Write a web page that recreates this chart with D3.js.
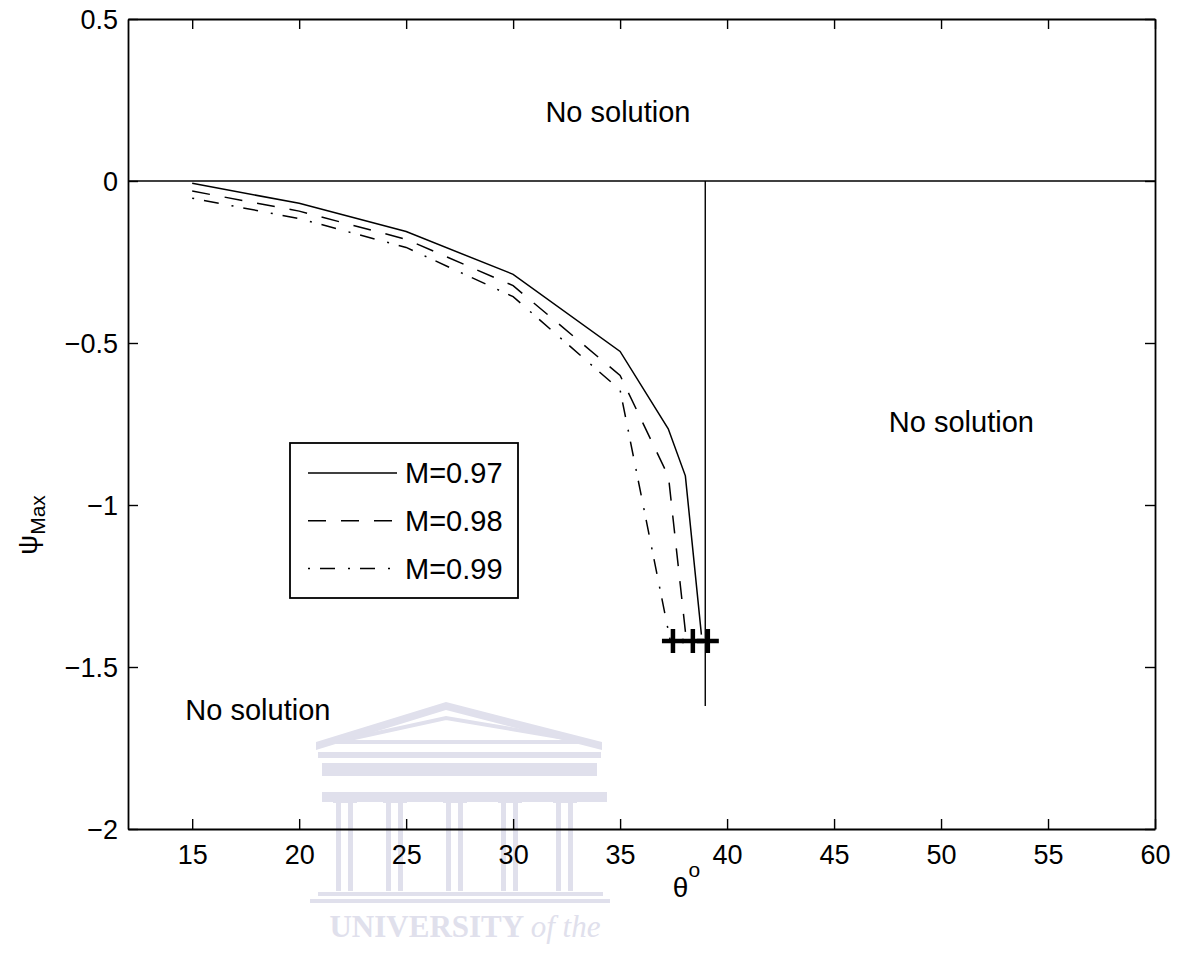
<!DOCTYPE html>
<html>
<head>
<meta charset="utf-8">
<script src="https://cdn.jsdelivr.net/npm/d3@7"></script>
<style>
  body { margin: 0; background: #fff; }
  svg { display: block; font-family: "Liberation Sans", Arial, Helvetica, sans-serif; }
</style>
</head>
<body>
<div id="chart"></div>
<script>
// curves (theta in degrees, psi_max)
const thetaM097 = [15, 20, 25, 30, 35, 37.25, 38.05, 38.8];
const psiM097 = [-0.007, -0.069, -0.156, -0.288, -0.526, -0.765, -0.91, -1.40];
const thetaM098 = [15, 20, 25, 30, 35, 37.26, 38.1];
const psiM098 = [-0.031, -0.093, -0.18, -0.323, -0.60, -0.912, -1.42];
const thetaM099 = [15, 20, 25, 30, 35, 37.35];
const psiM099 = [-0.053, -0.116, -0.205, -0.357, -0.645, -1.42];

const seriesNames = ["M=0.97", "M=0.98", "M=0.99"];
const markerTheta = [37.47, 38.4, 39.1];
const markerPsi = -1.42;
const limitTheta = 38.98;
const limitPsi = [0, -1.62];

const xTicks = [15, 20, 25, 30, 35, 40, 45, 50, 55, 60];
const yTicks = [0.5, 0, -0.5, -1, -1.5, -2];

const noSolutionLabels = [
  { theta: 34.9, psi: 0.183 },
  { theta: 50.95, psi: -0.775 },
  { theta: 18.07, psi: -1.665 }
];

const W = 1190, H = 970;
const margin = { top: 19, right: 35, bottom: 141, left: 128 };
const width = W - margin.left - margin.right;
const height = H - margin.top - margin.bottom;

const svg = d3.select("#chart").append("svg")
  .attr("width", W)
  .attr("height", H);

// faint watermark (university crest) behind the plot
const wmColor = "#e0e0ec";
const wm = svg.append("g").attr("fill", wmColor).attr("stroke", "none");
wm.append("path").attr("d", "M316,742 L446,702 L602,742 L602,750 L446,710 L316,750 Z");
wm.append("path").attr("d", "M336,742 L446,718 L588,742 Z").attr("fill", "none").attr("stroke", wmColor).attr("stroke-width", 4);
wm.append("rect").attr("x", 318).attr("y", 752).attr("width", 283).attr("height", 6);
wm.append("rect").attr("x", 322).attr("y", 763).attr("width", 275).attr("height", 13);
wm.append("rect").attr("x", 322).attr("y", 792).attr("width", 285).attr("height", 10);
[345, 395, 455, 510, 565].forEach(cx => {
  wm.append("rect").attr("x", cx - 12).attr("y", 798).attr("width", 24).attr("height", 5);
  wm.append("rect").attr("x", cx - 9).attr("y", 803).attr("width", 5).attr("height", 88);
  wm.append("rect").attr("x", cx + 3).attr("y", 803).attr("width", 5).attr("height", 88);
});
wm.append("rect").attr("x", 318).attr("y", 892).attr("width", 285).attr("height", 4);
wm.append("rect").attr("x", 310).attr("y", 899).attr("width", 300).attr("height", 4);
svg.append("text")
  .attr("x", 465).attr("y", 937)
  .attr("text-anchor", "middle")
  .attr("fill", wmColor)
  .style("font-family", "'Liberation Serif', 'DejaVu Serif', serif")
  .style("font-weight", "bold")
  .style("font-size", "31px")
  .html("UNIVERSITY <tspan font-style='italic' font-weight='normal'>of the</tspan>");

const g = svg.append("g").attr("transform", `translate(${margin.left},${margin.top})`);

const x = d3.scaleLinear().domain([12, 60]).range([0, width]);
const y = d3.scaleLinear().domain([-2, 0.5]).range([height, 0]);

const line = d3.line().x(d => x(d[0])).y(d => y(d[1]));

// zero line and limiting theta line
g.append("path")
  .datum([[12, 0], [60, 0]])
  .attr("d", line)
  .attr("stroke", "#000").attr("stroke-width", 1.6).attr("fill", "none");
g.append("path")
  .datum([[limitTheta, limitPsi[0]], [limitTheta, limitPsi[1]]])
  .attr("d", line)
  .attr("stroke", "#000").attr("stroke-width", 1.4).attr("fill", "none");

const series = [
  { name: seriesNames[0], xs: thetaM097, ys: psiM097, dash: null },
  { name: seriesNames[1], xs: thetaM098, ys: psiM098, dash: "18,15" },
  { name: seriesNames[2], xs: thetaM099, ys: psiM099, dash: "2,10,15,13" }
];

series.forEach(s => {
  g.append("path")
    .datum(s.xs.map((t, i) => [t, s.ys[i]]))
    .attr("d", line)
    .attr("fill", "none")
    .attr("stroke", "#000")
    .attr("stroke-width", 1.5)
    .attr("stroke-dasharray", s.dash);
});

// plus markers at the end points
markerTheta.forEach(t => {
  const cx = x(t), cy = y(markerPsi);
  g.append("path")
    .attr("d", `M${cx - 11},${cy}H${cx + 11}M${cx},${cy - 12}V${cy + 12}`)
    .attr("stroke", "#000").attr("stroke-width", 4.5).attr("fill", "none");
});

// axes, MATLAB style: ticks inside, box all round
const fontSize = "27px";
const axB = g.append("g").attr("transform", `translate(0,${height})`)
  .call(d3.axisBottom(x).tickValues(xTicks).tickSizeInner(-10).tickSizeOuter(0).tickPadding(16));
const axT = g.append("g")
  .call(d3.axisTop(x).tickValues(xTicks).tickSizeInner(-10).tickSizeOuter(0).tickFormat(""));
const axL = g.append("g")
  .call(d3.axisLeft(y).tickValues(yTicks).tickSizeInner(-10).tickSizeOuter(0).tickPadding(10)
    .tickFormat(d => d3.format("")(d).replace("-", "\u2212")));
const axR = g.append("g").attr("transform", `translate(${width},0)`)
  .call(d3.axisRight(y).tickValues(yTicks).tickSizeInner(-10).tickSizeOuter(0).tickFormat(""));

[axB, axT, axL, axR].forEach(a => {
  a.selectAll(".domain").attr("stroke", "#000").attr("stroke-width", 1.8);
  a.selectAll(".tick line").attr("stroke", "#000").attr("stroke-width", 1.4);
  a.selectAll("text")
    .attr("fill", "#000")
    .style("font-family", "'Liberation Sans', Arial, sans-serif")
    .style("font-size", fontSize);
});
axB.selectAll("text").attr("dy", "0.71em");
axL.selectAll("text").attr("dy", "0.36em");

// "No solution" annotations
noSolutionLabels.forEach(d => {
  g.append("text")
    .attr("x", x(d.theta))
    .attr("y", y(d.psi))
    .attr("text-anchor", "middle")
    .style("font-size", "29px")
    .text("No solution");
});

// legend
const legend = g.append("g").attr("transform", `translate(${290 - margin.left},${443 - margin.top})`);
legend.append("rect")
  .attr("width", 228).attr("height", 155)
  .attr("fill", "#fff").attr("stroke", "#000").attr("stroke-width", 1.8);
series.forEach((s, i) => {
  const ly = 30 + i * 47.8;
  legend.append("line")
    .attr("x1", 18).attr("x2", 107).attr("y1", ly).attr("y2", ly)
    .attr("stroke", "#000").attr("stroke-width", 1.5)
    .attr("stroke-dasharray", s.dash);
  legend.append("text")
    .attr("x", 115).attr("y", ly + 10)
    .style("font-size", "29px")
    .text(s.name);
});

// axis titles
svg.append("text")
  .attr("x", margin.left + x(38.1))
  .attr("y", 897)
  .attr("text-anchor", "middle")
  .style("font-size", "28px")
  .html("θ<tspan dy='-20' font-size='21px'>o</tspan>");

svg.append("text")
  .attr("transform", "translate(37,525) rotate(-90)")
  .attr("text-anchor", "middle")
  .style("font-size", "28px")
  .html("ψ<tspan dy='8' font-size='21px'>Max</tspan>");
</script>
</body>
</html>
